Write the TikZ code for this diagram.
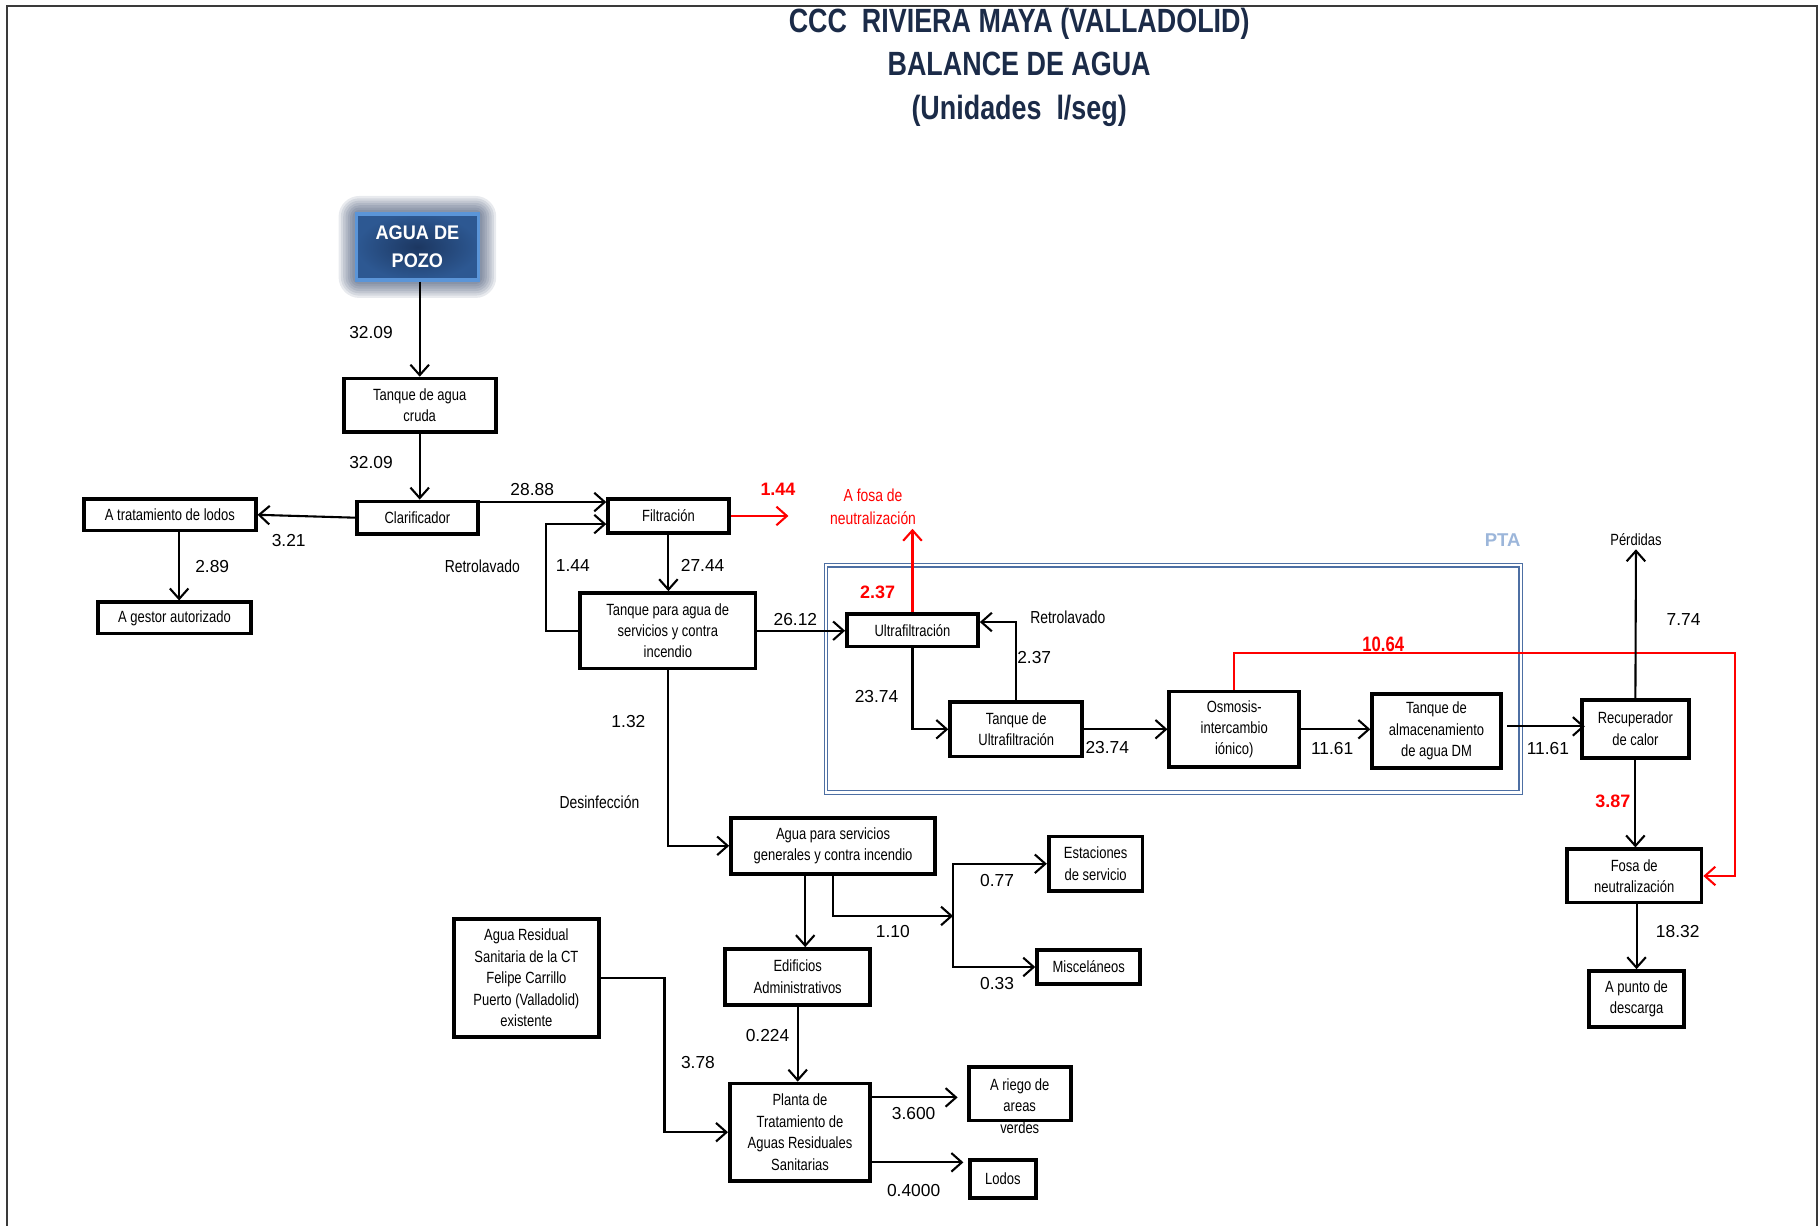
\documentclass[tikz,border=0pt]{standalone}
\usepackage{fontspec}
\setmainfont{Liberation Sans}
\newfontfamily\narrowfont{Liberation Sans}[FakeStretch=0.8]
\newfontfamily\pozofont{Liberation Sans}[FakeStretch=0.92]
\usetikzlibrary{arrows.meta,calc}
\definecolor{n}{HTML}{1B2B48}
\definecolor{r}{HTML}{FF0000}
\definecolor{b}{HTML}{4D6FA3}
\definecolor{lb}{HTML}{9CB6DA}
\definecolor{pzin}{HTML}{1C3761}
\definecolor{pzout}{HTML}{2D5892}
\definecolor{pzedge}{HTML}{5B95D8}
\definecolor{glow}{HTML}{1F3358}
\definecolor{frame}{HTML}{3A3A3A}

\begin{document}
\begin{tikzpicture}[x=1pt,y=-1pt,line join=miter,
  box/.style={draw,line width=3.2pt,align=center,inner sep=0pt,
    font=\narrowfont\fontsize{14}{18.5}\selectfont},
  flow/.style={line width=1.8pt,-{Straight Barb[length=9pt,width=16pt]}},
  num/.style={font=\fontsize{15}{18}\selectfont},
  rnum/.style={text=r,font=\bfseries\fontsize{15.5}{18}\selectfont},
  word/.style={font=\narrowfont\fontsize{15}{20}\selectfont,align=center}]
  \useasboundingbox (0,0) rectangle (1568,1057);
  \draw[frame,line width=1.6pt] (6,1057) -- (6,5) -- (1567,5) -- (1567,1057);
  \node[text=n,font=\narrowfont\bfseries\fontsize{29}{37.5}\selectfont,align=center] (title) at (879,58)
    {CCC\ \ RIVIERA MAYA (VALLADOLID)\\BALANCE DE AGUA\\(Unidades\ \ l/seg)};

  \foreach \g in {14,12,...,2}
    \fill[glow,opacity=0.1,rounded corners={\g pt+4pt}] ({306-\g},{183-\g}) rectangle ({414+\g},{243+\g});
  \node[draw=pzedge,line width=3pt,inner color=pzin,outer color=pzout,minimum width=105,minimum height=57,
    text=white,align=center,font=\pozofont\bfseries\fontsize{17}{24}\selectfont] (pozo) at (360,213) {AGUA DE\\POZO};

  \draw[b,double=white,double distance=1.8pt,line width=1.1pt] (712.5,487.5) rectangle (1311.5,683.5);
  \node[text=lb,font=\bfseries\fontsize{16}{18}\selectfont] (pta) at (1296,466) {PTA};

  \node[box,minimum width=131,minimum height=46] (cruda) at (362,349.5) {Tanque de agua\\cruda};
  \node[box,minimum width=104,minimum height=28] (clarif) at (360,446.5) {Clarificador};
  \node[box,minimum width=148,minimum height=27] (trat) at (146.5,444) {A tratamiento de lodos};
  \node[box,minimum width=132,minimum height=27] (gestor) at (150.5,533) {A gestor autorizado};
  \node[box,minimum width=104,minimum height=29] (filtr) at (576.5,445) {Filtración};
  \node[box,minimum width=151,minimum height=65] (tserv) at (576,544) {Tanque para agua de\\servicios y contra\\incendio};
  \node[box,minimum width=113,minimum height=28] (ultra) at (787,543.5) {Ultrafiltración};
  \node[box,minimum width=114,minimum height=47] (tuf) at (876.5,629) {Tanque de\\Ultrafiltración};
  \node[box,minimum width=112,minimum height=65] (osmo) at (1064.5,629) {Osmosis-\\intercambio\\iónico)};
  \node[box,minimum width=111,minimum height=64] (tdm) at (1239,630.5) {Tanque de\\almacenamiento\\de agua DM};
  \node[box,minimum width=92,minimum height=50] (recup) at (1410.5,628.5) {Recuperador\\de calor};
  \node[box,minimum width=116,minimum height=46] (fosa) at (1409.5,755.5) {Fosa de\\neutralización};
  \node[box,minimum width=82,minimum height=48] (desc) at (1411.5,861.5) {A punto de\\descarga};
  \node[box,minimum width=176,minimum height=48] (gserv) at (718.5,729.5) {Agua para servicios\\generales y contra incendio};
  \node[box,minimum width=81,minimum height=47] (estac) at (945,745) {Estaciones\\de servicio};
  \node[box,minimum width=89,minimum height=29] (misc) at (939,834) {Misceláneos};
  \node[box,minimum width=125,minimum height=48] (edif) at (688,842.5) {Edificios\\Administrativos};
  \node[box,minimum width=125,minimum height=102] (ars) at (454,843.5)
    {Agua Residual\\Sanitaria de la CT\\Felipe Carrillo\\Puerto (Valladolid)\\existente};
  \node[box,minimum width=121,minimum height=84] (planta) at (690,976.5)
    {Planta de\\Tratamiento de\\Aguas Residuales\\Sanitarias};
  \node[font=\narrowfont\fontsize{14}{18.5}\selectfont,align=center] (riegotxt) at (879.5,954) {A riego de\\areas\\verdes};
  \node[box,minimum width=88,minimum height=46] (riego) at (879.5,943.5) {};
  \node[box,minimum width=57,minimum height=33] (lodos) at (865,1017) {Lodos};

  \node[word,text=r] (afosa) at (753,437) {A fosa de\\neutralización};
  \node[word,font=\narrowfont\fontsize{14}{18}\selectfont] (perd) at (1411,465) {Pérdidas};
  \node[word] (retro1) at (416,488) {Retrolavado};
  \node[word] (retro2) at (921,532) {Retrolavado};
  \node[word] (desinf) at (517,692) {Desinfección};

  \node[num] (q1) at (320,287) {32.09};
  \node[num] (q2) at (320,399) {32.09};
  \node[num] (q3) at (459,422) {28.88};
  \node[num] (q4) at (249,466) {3.21};
  \node[num] (q5) at (183,489) {2.89};
  \node[num] (q6) at (494,488) {1.44};
  \node[num] (q7) at (606,488) {27.44};
  \node[rnum] (q8) at (671,422) {1.44};
  \node[rnum] (q9) at (757,511) {2.37};
  \node[num] (q10) at (686,534) {26.12};
  \node[num] (q11) at (892,567) {2.37};
  \node[num] (q12) at (756,601) {23.74};
  \node[num] (q13) at (955,645) {23.74};
  \node[text=r,font=\narrowfont\bfseries\fontsize{18}{20}\selectfont] (q14) at (1193,556) {10.64};
  \node[num] (q15) at (1149,646) {11.61};
  \node[num] (q16) at (1335,646) {11.61};
  \node[num] (q17) at (1452,534) {7.74};
  \node[rnum] (q18) at (1391,691) {3.87};
  \node[num] (q19) at (1447,803) {18.32};
  \node[num] (q20) at (542,622) {1.32};
  \node[num] (q21) at (770,803) {1.10};
  \node[num] (q22) at (860,759) {0.77};
  \node[num] (q23) at (860,848) {0.33};
  \node[num] (q24) at (662,893) {0.224};
  \node[num] (q25) at (602,916) {3.78};
  \node[num] (q26) at (788,960) {3.600};
  \node[num] (q27) at (788,1027) {0.4000};

  \coordinate (redout) at (680,445);
  \coordinate (split) at (822,790);
  \draw[flow] (cruda.north |- pozo.south) -- (cruda.north);
  \draw[flow] (cruda.south) -- (cruda.south |- clarif.north);
  \draw[flow] (clarif.west) -- (trat.east);
  \draw[flow] ([xshift=8pt]trat.south) -- ([xshift=8pt]trat.south |- gestor.north);
  \draw[flow] ([yshift=12pt]filtr.west -| clarif.east) -- ([yshift=12pt]filtr.west);
  \draw[flow] (tserv.west) -- ++(-28,0) |- ([yshift=-7pt]filtr.west);
  \draw[flow,r] (filtr.east) -- (redout);
  \draw[flow] (filtr.south) -- (filtr.south |- tserv.north);
  \draw[flow] (tserv.east) -- (tserv.east -| ultra.west);
  \draw[flow,r] (ultra.north) -- (ultra.north |- afosa.south);
  \draw[flow] (tuf.north) |- ([yshift=7pt]ultra.east);
  \draw[flow] (ultra.south) |- (tuf.west);
  \draw[flow] (tuf.east) -- (osmo.west);
  \draw[flow] (osmo.east) -- (osmo.east -| tdm.west);
  \draw[flow] ([shift={(4pt,4pt)}]tdm.east) -- ([shift={(4pt,4pt)}]tdm.east -| recup.west);
  \draw[flow,r] (osmo.north) -- ++(0,-32) -| ([xshift=27pt]fosa.east) -- (fosa.east);
  \draw[flow] (recup.north) -- (perd.south);
  \draw[flow] (recup.south) -- (recup.south |- fosa.north);
  \draw[flow] (desc.north |- fosa.south) -- (desc.north);
  \draw[flow] (tserv.south) |- (gserv.west);
  \draw[flow] ([xshift=-24pt]gserv.south) -- ([xshift=-24pt]gserv.south |- edif.north);
  \draw[flow] (gserv.south) |- (split);
  \draw[flow] (split) |- (estac.west);
  \draw[flow] (split) |- (misc.west);
  \draw[flow] (edif.south) -- (edif.south |- planta.north);
  \draw[flow] (ars.east) -- ++(55,0) |- (planta.west);
  \draw[flow,shorten >=8pt] ([yshift=30pt]planta.east) -- ([yshift=30pt]planta.east -| riego.west);
  \draw[flow,shorten >=4pt] ([yshift=-26pt]planta.east) -- ([yshift=-26pt]planta.east -| lodos.west);
\end{tikzpicture}
\end{document}
